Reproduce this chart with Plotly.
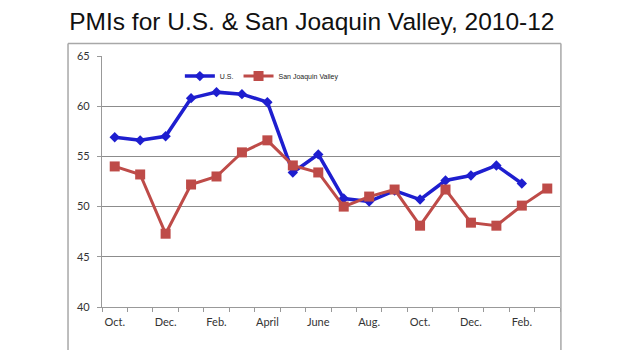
import plotly.graph_objects as go

months = ["Oct.", "Nov.", "Dec.", "Jan.", "Feb.", "Mar.", "April", "May", "June",
          "July", "Aug.", "Sep.", "Oct.", "Nov.", "Dec.", "Jan.", "Feb.", "Mar."]
tick_labels = ["Oct.", "Dec.", "Feb.", "April", "June", "Aug.", "Oct.", "Dec.", "Feb."]
us_pmi = [56.9, 56.6, 57.0, 60.8, 61.4, 61.2, 60.4, 53.4, 55.2,
          50.8, 50.5, 51.6, 50.7, 52.6, 53.1, 54.1, 52.3, None]
sjv_pmi = [54.0, 53.2, 47.3, 52.2, 53.0, 55.4, 56.6, 54.1, 53.4,
           50.0, 51.0, 51.7, 48.1, 51.7, 48.4, 48.1, 50.1, 51.8]

x_idx = list(range(len(months)))
tick_pos = x_idx[::2]

fig = go.Figure()
fig.add_trace(go.Scatter(
    x=x_idx, y=us_pmi, name="U.S.", mode="lines+markers",
    line=dict(color="#1E1ECF", width=3.5),
    marker=dict(symbol="diamond", size=8, color="#1E1ECF"),
    text=months, hoverinfo="text+y"))
fig.add_trace(go.Scatter(
    x=x_idx, y=sjv_pmi, name="San Joaquin Valley", mode="lines+markers",
    line=dict(color="#BE4B48", width=3),
    marker=dict(symbol="square", size=10, color="#BE4B48"),
    text=months, hoverinfo="text+y"))

fig.update_layout(
    width=620, height=350,
    margin=dict(l=102, r=60, t=56, b=43),
    paper_bgcolor="white", plot_bgcolor="white",
    title=dict(text="PMIs for U.S. & San Joaquin Valley, 2010-12",
               x=0.503, xref="container", xanchor="center", y=0.94, yref="container",
               yanchor="middle",
               font=dict(family="Liberation Sans, Arial", size=24.5, color="#111")),
    showlegend=True,
    legend=dict(orientation="h", x=0.17, y=0.92, xanchor="left", yanchor="middle",
                font=dict(family="Liberation Sans, Arial", size=7, color="#222"),
                bgcolor="rgba(0,0,0,0)", itemwidth=30, tracegroupgap=0),
    xaxis=dict(range=[-0.5, 17.5], tickmode="array", tickvals=tick_pos,
               ticktext=tick_labels, ticks="", showgrid=False,
               showline=True, linecolor="#999", linewidth=1.2,
               ticklabelstandoff=5,
               tickfont=dict(family="Lato, Open Sans", size=11, color="#333"),
               zeroline=False,
               minor=dict(tickmode="linear", tick0=-0.5, dtick=1, ticks="outside",
                          ticklen=4, tickcolor="#999", showgrid=False)),
    yaxis=dict(range=[40, 65], tickmode="linear", tick0=40, dtick=5,
               ticks="outside", ticklen=4, tickcolor="#999",
               showgrid=True, gridcolor="#8C8C8C", gridwidth=1.2,
               showline=True, linecolor="#999", linewidth=1.2,
               zeroline=False, ticklabelstandoff=5,
               tickfont=dict(family="Lato, Open Sans", size=11, color="#333")),
    shapes=[
        dict(type="line", xref="paper", yref="paper", x0=-0.0742, x1=1.002,
             y0=1.05, y1=1.05, line=dict(color="#A8A8A8", width=1.5)),
        dict(type="line", xref="paper", yref="paper", x0=-0.0742, x1=-0.0742,
             y0=1.05, y1=-0.2, line=dict(color="#A8A8A8", width=1.5)),
        dict(type="line", xref="paper", yref="paper", x0=1.002, x1=1.002,
             y0=1.05, y1=-0.2, line=dict(color="#A8A8A8", width=1.5)),
    ],
)

fig.write_html("out.html")
